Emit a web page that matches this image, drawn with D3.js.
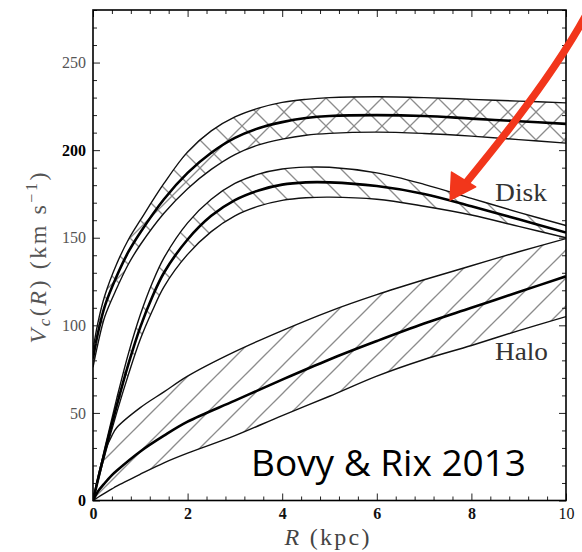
<!DOCTYPE html>
<html><head><meta charset="utf-8">
<script src="https://cdn.jsdelivr.net/npm/d3@7"></script>
<style>body{margin:0;background:#fff}svg{display:block}</style>
</head><body><svg id="c" width="582" height="552"></svg>
<script>
// ---- data ----
const totalR      = [0, 0.1, 0.25, 0.5, 0.75, 1, 1.5, 2, 2.5, 3, 3.5, 4, 4.5, 5, 6, 7, 8, 9, 10];
const totalMedian = [81, 95, 111, 128, 142, 153, 172, 187, 198.5, 207, 212.5, 216, 218.3, 219.5, 220, 219.5, 218, 216.5, 215];
const totalUpper  = [86, 101, 117, 135, 149, 160, 181, 199, 211, 219, 224, 227.3, 229, 230, 230.5, 230, 229, 228, 227];
const totalLower  = [76, 89, 105, 121, 135, 146, 164, 178, 189, 197.5, 203, 206.3, 208.5, 209.6, 210.3, 209.5, 208, 206, 204];

const diskR      = [0, 0.25, 0.5, 0.75, 1, 1.25, 1.5, 2, 2.5, 3, 3.5, 4, 4.5, 5, 6, 7, 8, 9, 10];
const diskMedian = [0, 28, 54, 78, 99, 116, 130, 149, 162.5, 171.5, 177, 180.3, 181.6, 181.6, 179.5, 175, 168, 160.5, 153];
const diskUpper  = [0, 30, 58, 84, 106, 124, 138.5, 158.5, 172, 181, 186.3, 189.2, 190.3, 190.2, 187, 180.5, 172.5, 164.5, 157];
const diskLower  = [0, 26, 50, 72, 92, 108, 122, 140.5, 153.5, 162.5, 168, 171.3, 172.8, 173.2, 172, 168, 163, 156.5, 150];

const haloR      = [0, 0.1, 0.25, 0.4, 0.5, 1, 1.5, 2, 3, 4, 5, 6, 7, 8, 9, 10];
const haloMedian = [0, 5, 10, 14.5, 17, 28, 37, 45, 57, 69, 80.5, 91, 101, 110, 119, 128];
const haloUpper  = [0, 13, 28, 37, 41.5, 53, 62, 71, 85, 97, 108, 117.5, 126, 134, 142, 149.5];
const haloLower  = [0, 1.7, 4.2, 6.6, 8.2, 15, 21.5, 27, 37, 48.5, 59.5, 71, 80.5, 88.5, 97, 105];

const xTicks = [0, 2, 4, 6, 8, 10];
const yTicks = [0, 50, 100, 150, 200, 250];
const xMinor = d3.range(0, 10.01, 0.4).filter(v => Math.abs(v / 2 - Math.round(v / 2)) > 1e-6);
const yMinor = d3.range(0, 281, 10).filter(v => v % 50 !== 0);
const boldY = ["200", "0"];
const boldX = ["0", "2", "4", "6", "8"];

const labels = { disk: "Disk", halo: "Halo", credit: "Bovy & Rix 2013" };

// ---- layout ----
const svg = d3.select("#c");
svg.append("rect").attr("width", 582).attr("height", 552).attr("fill", "#fff");
const x = d3.scaleLinear().domain([0, 10]).range([93, 566]);
const y = d3.scaleLinear().domain([0, 280]).range([500.5, 10]);

// hatch patterns
const defs = svg.append("defs");
const P = 28, hatchColor = "#8c8c8c", hatchW = 1.3;
function pattern(id, fwd, back) {
  const p = defs.append("pattern").attr("id", id).attr("patternUnits", "userSpaceOnUse")
    .attr("width", P).attr("height", P).attr("x", 4).attr("y", 0);
  const segs = [];
  if (fwd) segs.push([0, P, P, 0], [-P/4, P/4, P/4, -P/4], [3*P/4, 5*P/4, 5*P/4, 3*P/4]);
  if (back) segs.push([0, 0, P, P], [-P/4, 3*P/4, P/4, 5*P/4], [3*P/4, -P/4, 5*P/4, P/4]);
  segs.forEach(s => p.append("line").attr("x1", s[0]).attr("y1", s[1]).attr("x2", s[2]).attr("y2", s[3])
    .attr("stroke", hatchColor).attr("stroke-width", hatchW));
}
pattern("hx", true, true);
pattern("hb", false, true);
pattern("hf", true, false);

svg.append("clipPath").attr("id", "plotclip").append("rect")
  .attr("x", 93).attr("y", 10).attr("width", 473).attr("height", 490.5);
const plot = svg.append("g").attr("clip-path", "url(#plotclip)");

const curve = d3.curveCatmullRom.alpha(0.5);
function band(R, lo, hi, med, fill) {
  const pts = R.map((r, i) => ({ r, lo: lo[i], hi: hi[i], m: med[i] }));
  const area = d3.area().x(d => x(d.r)).y0(d => y(d.lo)).y1(d => y(d.hi)).curve(curve);
  plot.append("path").datum(pts).attr("d", area).attr("fill", `url(#${fill})`);
  const line = key => d3.line().x(d => x(d.r)).y(d => y(d[key])).curve(curve);
  plot.append("path").datum(pts).attr("d", line("hi")).attr("fill", "none").attr("stroke", "#111").attr("stroke-width", 1.4);
  plot.append("path").datum(pts).attr("d", line("lo")).attr("fill", "none").attr("stroke", "#111").attr("stroke-width", 1.4);
  plot.append("path").datum(pts).attr("d", line("m")).attr("fill", "none").attr("stroke", "#000").attr("stroke-width", 2.6);
}
band(haloR, haloLower, haloUpper, haloMedian, "hf");
band(diskR, diskLower, diskUpper, diskMedian, "hb");
band(totalR, totalLower, totalUpper, totalMedian, "hx");

// axes
function styleAxis(g) {
  g.select(".domain").remove();
  g.selectAll(".tick line").attr("stroke", "#222").attr("stroke-width", 1);
}
const serif = "'Liberation Serif', 'Times New Roman', serif";
const gb = svg.append("g").attr("transform", `translate(0,${y(0)})`)
  .call(d3.axisBottom(x).tickValues(xTicks).tickSize(-7).tickPadding(7).tickFormat(d3.format("d")));
gb.call(styleAxis);
gb.selectAll("text").attr("font-family", serif).attr("font-size", 16)
  .attr("fill", "#111").attr("font-weight", d => boldX.includes(String(d)) ? "bold" : "normal");
svg.append("g").attr("transform", `translate(0,${y(0)})`)
  .call(d3.axisBottom(x).tickValues(xMinor).tickSize(-4).tickFormat("")).call(styleAxis);
svg.append("g").attr("transform", `translate(0,${y(280)})`)
  .call(d3.axisTop(x).tickValues(xTicks).tickSize(-7).tickFormat("")).call(styleAxis);
svg.append("g").attr("transform", `translate(0,${y(280)})`)
  .call(d3.axisTop(x).tickValues(xMinor).tickSize(-4).tickFormat("")).call(styleAxis);

const gl = svg.append("g").attr("transform", `translate(${x(0)},0)`)
  .call(d3.axisLeft(y).tickValues(yTicks).tickSize(-7).tickPadding(7).tickFormat(d3.format("d")));
gl.call(styleAxis);
gl.selectAll("text").attr("font-family", serif).attr("font-size", 16)
  .attr("fill", d => boldY.includes(String(d)) ? "#000" : "#555")
  .attr("font-weight", d => boldY.includes(String(d)) ? "bold" : "normal");
svg.append("g").attr("transform", `translate(${x(0)},0)`)
  .call(d3.axisLeft(y).tickValues(yMinor).tickSize(-4).tickFormat("")).call(styleAxis);
svg.append("g").attr("transform", `translate(${x(10)},0)`)
  .call(d3.axisRight(y).tickValues(yTicks).tickSize(-7).tickFormat("")).call(styleAxis);
svg.append("g").attr("transform", `translate(${x(10)},0)`)
  .call(d3.axisRight(y).tickValues(yMinor).tickSize(-4).tickFormat("")).call(styleAxis);

// frame
svg.append("rect").attr("x", x(0)).attr("y", y(280)).attr("width", x(10) - x(0)).attr("height", y(0) - y(280))
  .attr("fill", "none").attr("stroke", "#000").attr("stroke-width", 1.6);

// axis titles
const yt = svg.append("text").attr("transform", "translate(46,258) rotate(-90)")
  .attr("text-anchor", "middle").attr("font-family", serif).attr("font-size", 24).attr("fill", "#555")
  .attr("textLength", 171).attr("lengthAdjust", "spacing");
yt.append("tspan").attr("font-style", "italic").text("V");
yt.append("tspan").attr("font-style", "italic").attr("font-size", 17).attr("dy", 4).text("c");
yt.append("tspan").attr("dy", -4).text("(");
yt.append("tspan").attr("font-style", "italic").text("R");
yt.append("tspan").text(") (km s");
yt.append("tspan").attr("font-size", 16).attr("dy", -9).text("\u22121");
yt.append("tspan").attr("dy", 9).text(")");

const xt = svg.append("text").attr("x", 327).attr("y", 545).attr("text-anchor", "middle")
  .attr("font-family", serif).attr("font-size", 24).attr("fill", "#444")
  .attr("textLength", 85).attr("lengthAdjust", "spacing");
xt.append("tspan").attr("font-style", "italic").text("R");
xt.append("tspan").text(" (kpc)");

// band labels
svg.append("text").attr("x", 495).attr("y", 201).attr("font-family", serif).attr("font-size", 25)
  .attr("fill", "#333").attr("textLength", 52).attr("lengthAdjust", "spacingAndGlyphs").text(labels.disk);
svg.append("text").attr("x", 495).attr("y", 360).attr("font-family", serif).attr("font-size", 25)
  .attr("fill", "#333").attr("textLength", 53).attr("lengthAdjust", "spacingAndGlyphs").text(labels.halo);

// credit
svg.append("text").attr("x", 251).attr("y", 476).attr("font-family", "'Open Sans', 'Noto Sans', sans-serif")
  .attr("font-size", 36).attr("fill", "#000").attr("textLength", 275).attr("lengthAdjust", "spacingAndGlyphs")
  .text(labels.credit);

// red arrow annotation (in data coordinates)
const arrowStart = [10.5, 281], arrowCtrl = [9.77, 243], arrowEnd = [7.89, 181.5];
const headTip = [7.55, 171.5], headL = [7.58, 187.5], headR = [8.09, 179];
const ap = d3.path();
ap.moveTo(x(arrowStart[0]), y(arrowStart[1]));
ap.quadraticCurveTo(x(arrowCtrl[0]), y(arrowCtrl[1]), x(arrowEnd[0]), y(arrowEnd[1]));
svg.append("path").attr("d", ap.toString()).attr("fill", "none").attr("stroke", "#f2361b").attr("stroke-width", 7.5);
svg.append("path").attr("d", d3.line()([headTip, headL, headR].map(p => [x(p[0]), y(p[1])])) + "Z")
  .attr("fill", "#f2361b").attr("stroke", "#f2361b").attr("stroke-width", 1.5).attr("stroke-linejoin", "round");
</script></body></html>
